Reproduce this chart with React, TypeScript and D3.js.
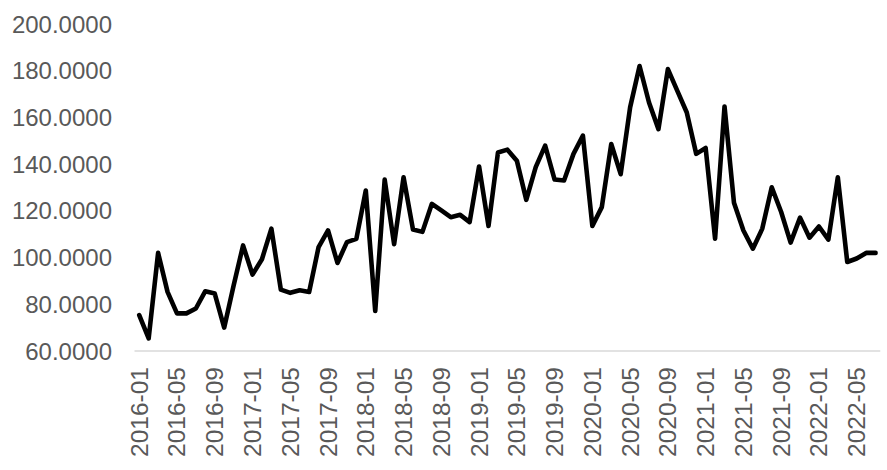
import React from "react";
import * as d3 from "d3";

const startYear = 2016;
const values: number[] = [
  75.4, 65.4, 102.0, 85.3, 76.1, 76.1, 78.2, 85.6, 84.6, 70.0, 88.0, 105.2,
  92.7, 99.3, 112.4, 86.3, 84.9, 86.0, 85.3, 104.5, 111.6, 97.7, 106.6, 108.0,
  128.7, 77.1, 133.4, 105.7, 134.4, 112.0, 111.0, 123.0, 120.2, 117.3, 118.3, 115.2,
  139.0, 113.5, 145.0, 146.2, 141.5, 124.7, 138.7, 147.9, 133.4, 133.0, 144.4, 152.2,
  113.5, 121.6, 148.6, 135.7, 164.3, 182.0, 166.4, 155.0, 180.7, 171.4, 162.1, 144.4,
  146.9, 108.1, 164.7, 123.5, 111.6, 103.8, 112.4, 130.1, 119.5, 106.4, 117.1, 108.5,
  113.3, 107.7, 134.4, 98.1, 99.6, 102.0, 102.0,
];
const categories: string[] = values.map((_, i) => {
  const y = startYear + Math.floor(i / 12);
  const m = (i % 12) + 1;
  return `${y}-${m < 10 ? "0" + m : m}`;
});
const yTicks: number[] = [60, 80, 100, 120, 140, 160, 180, 200];

export default function App() {
  const W = 887;
  const H = 470;
  const left = 134.5;
  const right = 880.3;
  const top = 24;
  const bottom = 351;

  const x = d3.scaleBand<string>().domain(categories).range([left, right]);
  const y = d3.scaleLinear().domain([60, 200]).range([bottom, top]);
  const cx = (c: string) => (x(c) as number) + x.bandwidth() / 2;

  const line = d3
    .line<number>()
    .x((_, i) => cx(categories[i]))
    .y((d) => y(d));

  const font = "'Liberation Sans', Arial, sans-serif";
  const color = "#595959";

  return (
    <svg
      width={W}
      height={H}
      style={{ position: "absolute", left: 0, top: 0, background: "#fff" }}
    >
      <line x1={left} x2={right} y1={bottom} y2={bottom} stroke="#d9d9d9" strokeWidth={1.3} />
      {yTicks.map((t) => (
        <text
          key={t}
          x={112}
          y={y(t)}
          textAnchor="end"
          dominantBaseline="central"
          fontFamily={font}
          fontSize={24}
          fill={color}
        >
          {t.toFixed(4)}
        </text>
      ))}
      {categories.map((c, i) =>
        i % 4 === 0 ? (
          <text
            key={c}
            transform={`translate(${cx(c)},367) rotate(-90)`}
            textAnchor="end"
            dominantBaseline="central"
            fontFamily={font}
            fontSize={24.5}
            fill={color}
          >
            {c}
          </text>
        ) : null
      )}
      <path
        d={line(values) || ""}
        fill="none"
        stroke="#000"
        strokeWidth={4.6}
        strokeLinejoin="round"
        strokeLinecap="round"
      />
    </svg>
  );
}
